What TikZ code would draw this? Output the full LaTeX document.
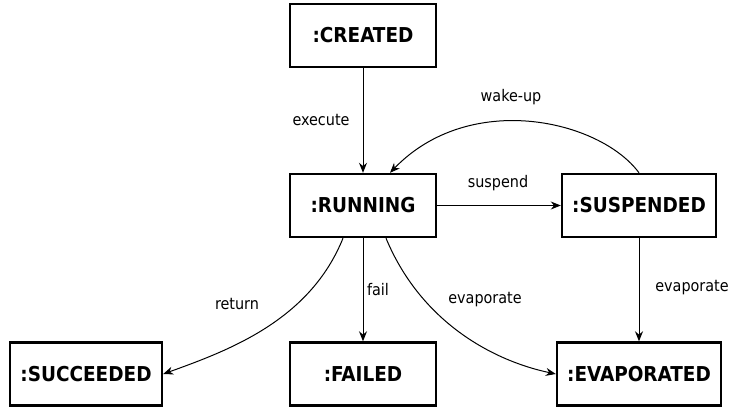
\documentclass[tikz,border=0pt]{standalone}
\usepackage{fontspec}
\setmainfont{DejaVu Sans Condensed}
\usetikzlibrary{arrows.meta}
\begin{document}
\begin{tikzpicture}[x=1pt,y=-1pt,
  state/.style={draw,line width=2.4pt,minimum width=146pt,minimum height=63pt,inner sep=0pt,font=\fontsize{20.5}{24}\selectfont\bfseries},
  conn/.style={line width=1pt,-{Stealth[length=10pt,width=8pt]}},
  lbl/.style={font=\fontsize{16}{19}\selectfont}]
\useasboundingbox (0,0) rectangle (733,410);
\node[state] (created) at (363,35.5) {:CREATED};
\node[state] (running) at (363,205.5) {:RUNNING};
\node[state,minimum width=154pt] (suspended) at (639,205.5) {:SUSPENDED};
\node[state,minimum width=152pt] (succeeded) at (86,374) {:SUCCEEDED};
\node[state] (failed) at (363,374) {:FAILED};
\node[state,minimum width=164pt] (evaporated) at (639,374) {:EVAPORATED};
\draw[conn] (created) -- (running);
\node[lbl] (lexec) at (321,120) {execute};
\draw[conn] (running) -- (suspended);
\node[lbl] (lsusp) at (498,183) {suspend};
\draw[conn] (suspended.north) .. controls (600,120) and (470,90) .. ([xshift=27pt]running.north);
\node[lbl] (lwake) at (511,97) {wake-up};
\draw[conn] (running) -- (failed);
\node[lbl] (lfail) at (378,290) {fail};
\draw[conn] ([xshift=-20pt]running.south) .. controls (310,320) and (230,350) .. (succeeded.east);
\node[lbl] (lret) at (237,304) {return};
\draw[conn] ([xshift=23pt]running.south) .. controls (420,320) and (490,360) .. (evaporated.west);
\node[lbl] (levap1) at (485,300) {evaporate};
\draw[conn] (suspended) -- (evaporated);
\node[lbl] (levap2) at (692,288) {evaporate};
\end{tikzpicture}
\end{document}
